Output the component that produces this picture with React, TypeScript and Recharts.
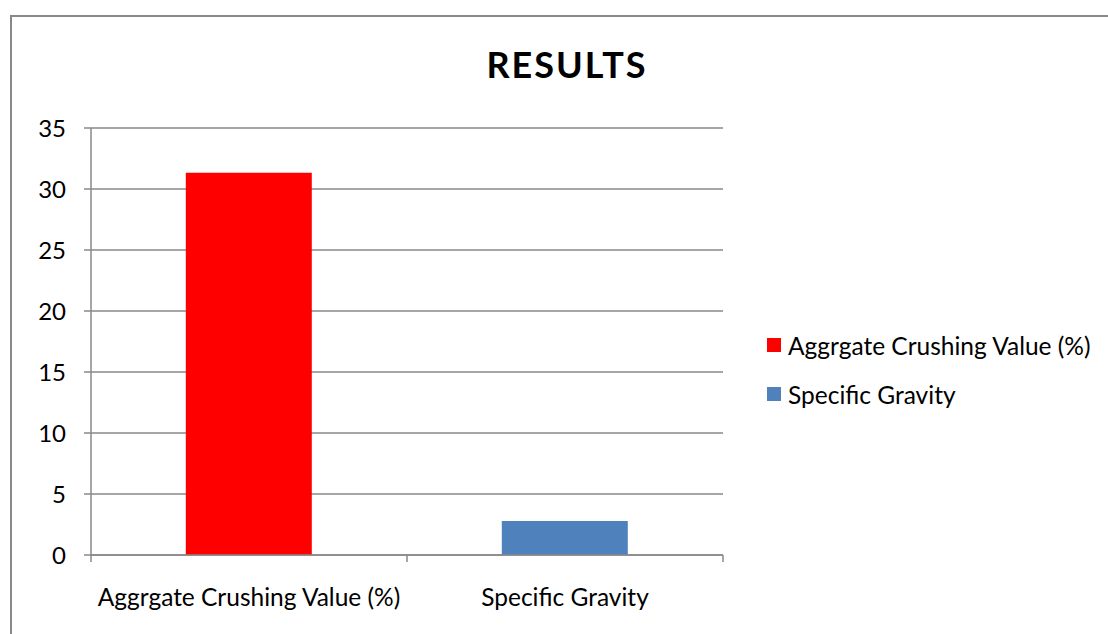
import { BarChart, Bar, XAxis, YAxis, CartesianGrid, Legend } from 'recharts'

const categories = ['Aggrgate Crushing Value (%)', 'Specific Gravity']
const crushingValues = [31.34, null]
const gravityValues = [null, 2.79]
const yTicks = [0, 5, 10, 15, 20, 25, 30, 35]

const data = categories.map((name, i) => ({
  name,
  acv: crushingValues[i],
  sg: gravityValues[i],
}))

const gray = '#898989'
const font = 'Lato, sans-serif'
const TICK_SIZE = 7
const X_TICK_MARGIN = 27

// Excel style: tick marks sit between categories, not under them
function CategoryTick(props: any) {
  const { x, y, payload, index, visibleTicksCount } = props
  const half = payload?.offset ?? 0
  const axisY = y - X_TICK_MARGIN - TICK_SIZE
  const isLast = index === visibleTicksCount - 1
  return (
    <g>
      <line x1={x - half} x2={x - half} y1={axisY} y2={axisY + TICK_SIZE} stroke={gray} strokeWidth={1.5} />
      {isLast && (
        <line x1={x + half} x2={x + half} y1={axisY} y2={axisY + TICK_SIZE} stroke={gray} strokeWidth={1.5} />
      )}
      <text x={x} y={y} dy="0.71em" textAnchor="middle" fill="#000" fontSize={24.5} fontFamily={font}>
        {payload.value}
      </text>
    </g>
  )
}

function renderLegend(props: any) {
  const items = props.payload ?? []
  return (
    <ul style={{ listStyle: 'none', margin: 0, padding: 0, fontFamily: font }}>
      {items.map((entry: any) => (
        <li
          key={entry.value}
          style={{ display: 'flex', alignItems: 'center', height: 28, marginBottom: 21 }}
        >
          <span
            style={{ width: 14, height: 14, background: entry.color, marginRight: 7, display: 'inline-block' }}
          />
          <span style={{ fontSize: 24.5, color: '#000', whiteSpace: 'nowrap' }}>{entry.value}</span>
        </li>
      ))}
    </ul>
  )
}

export default function App() {
  return (
    <div
      style={{
        position: 'absolute',
        left: 0,
        top: 0,
        width: 1108,
        height: 634,
        overflow: 'hidden',
        background: '#fff',
        fontFamily: font,
      }}
    >
      <div
        style={{
          position: 'absolute',
          left: 10,
          top: 15,
          width: 1200,
          height: 700,
          border: `2px solid ${gray}`,
        }}
      />
      <div
        style={{
          position: 'absolute',
          left: 0,
          top: 43,
          width: 1134,
          textAlign: 'center',
          fontSize: 36,
          fontWeight: 700,
          letterSpacing: 2,
          color: '#000',
          lineHeight: 1.2,
        }}
      >
        RESULTS
      </div>
      <div style={{ position: 'absolute', left: 0, top: 0 }}>
        <BarChart
          width={1108}
          height={634}
          data={data}
          margin={{ top: 128, right: 385, bottom: 0, left: 0 }}
          barCategoryGap="30%"
        >
          <CartesianGrid vertical={false} stroke={gray} strokeWidth={1.5} />
          <XAxis
            dataKey="name"
            height={79}
            interval={0}
            axisLine={{ stroke: gray, strokeWidth: 1.5 }}
            tickLine={false}
            tickSize={TICK_SIZE}
            tickMargin={X_TICK_MARGIN}
            tick={<CategoryTick />}
          />
          <YAxis
            width={91}
            domain={[0, 35]}
            ticks={yTicks}
            interval={0}
            axisLine={{ stroke: gray, strokeWidth: 1.5 }}
            tickLine={{ stroke: gray, strokeWidth: 1.5 }}
            tickSize={TICK_SIZE}
            tickMargin={18}
            tick={{ fill: '#000', fontSize: 24, fontFamily: font }}
          />
          <Legend
            layout="vertical"
            align="center"
            verticalAlign="middle"
            wrapperStyle={{ left: 767, top: 331, width: 340 }}
            content={renderLegend}
          />
          <Bar
            dataKey="acv"
            name="Aggrgate Crushing Value (%)"
            stackId="a"
            fill="#FF0000"
            isAnimationActive={false}
          />
          <Bar
            dataKey="sg"
            name="Specific Gravity"
            stackId="a"
            fill="#4F81BD"
            isAnimationActive={false}
          />
        </BarChart>
      </div>
    </div>
  )
}
